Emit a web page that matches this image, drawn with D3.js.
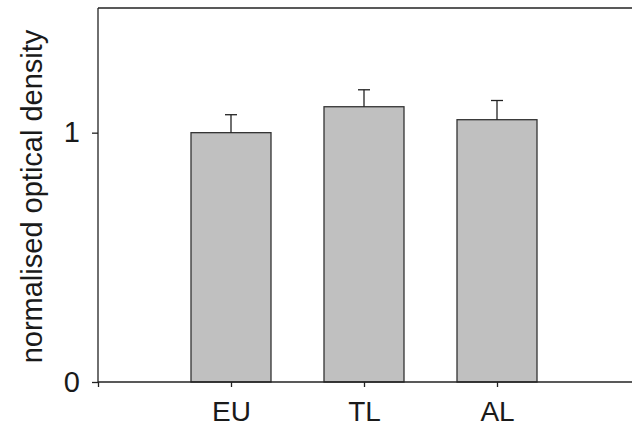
<!DOCTYPE html>
<html><head><meta charset="utf-8">
<script src="https://cdn.jsdelivr.net/npm/d3@7"></script>
<style>body{margin:0;background:#fff}svg{display:block}</style>
</head><body>
<svg id="c" width="632" height="427"></svg>
<script>
const categories = ["EU", "TL", "AL"];
const values = [1.0, 1.104, 1.052];
const errors = [0.072, 0.068, 0.077];
const yTicks = [0, 1];

(function () {
const svg = d3.select("#c");
const mLeft = 98, mRight = 632, mTop = 8, mBottom = 382;
const x = d3.scaleLinear().domain([0, 4]).range([mLeft, mLeft + 532]);
const y = d3.scaleLinear().domain([0, 1.5]).range([mBottom, mTop]);
const font = "Liberation Sans, Arial, sans-serif";

// bars
const bw = 80;
svg.selectAll("rect.bar").data(values).enter().append("rect")
  .attr("class", "bar")
  .attr("x", (d, i) => x(i + 1) - bw / 2)
  .attr("y", d => y(d))
  .attr("width", bw)
  .attr("height", d => y(0) - y(d))
  .attr("fill", "#c0c0c0")
  .attr("stroke", "#333")
  .attr("stroke-width", 1.3);

// error bars
const eg = svg.append("g").attr("stroke", "#222").attr("stroke-width", 1.3);
values.forEach((v, i) => {
  const cx = x(i + 1);
  eg.append("line").attr("x1", cx).attr("x2", cx).attr("y1", y(v)).attr("y2", y(v + errors[i]));
  eg.append("line").attr("x1", cx - 6).attr("x2", cx + 6).attr("y1", y(v + errors[i])).attr("y2", y(v + errors[i]));
});

// frame top line
svg.append("line").attr("x1", mLeft).attr("x2", mRight).attr("y1", y(1.5)).attr("y2", y(1.5))
  .attr("stroke", "#222").attr("stroke-width", 1.3);

// y axis
const ya = svg.append("g").attr("transform", `translate(${mLeft},0)`)
  .call(d3.axisLeft(y).tickValues(yTicks).tickFormat(d3.format("d")).tickSize(6).tickPadding(12));
ya.select(".domain").attr("stroke", "#222").attr("stroke-width", 1.3).attr("d", `M0,${y(0)}V${y(1.5)}`);
ya.selectAll(".tick line").attr("stroke", "#222").attr("stroke-width", 1.3);
ya.selectAll(".tick text").attr("font-family", font).attr("font-size", 29).attr("fill", "#1a1a1a");

// x axis
const xa = svg.append("g").attr("transform", `translate(0,${mBottom})`)
  .call(d3.axisBottom(x).tickValues([0, 1, 2, 3]).tickFormat(d => d === 0 ? "" : categories[d - 1]).tickSize(5).tickPadding(14));
xa.select(".domain").attr("stroke", "#222").attr("stroke-width", 1.3).attr("d", `M${mLeft},0H${mRight}`);
xa.selectAll(".tick line").attr("stroke", "#222").attr("stroke-width", 1.3);
xa.selectAll(".tick text").attr("font-family", font).attr("font-size", 28).attr("fill", "#1a1a1a");

// y label
svg.append("text")
  .attr("transform", `translate(42,${(30 + 363) / 2}) rotate(-90)`)
  .attr("text-anchor", "middle")
  .attr("font-family", font).attr("font-size", 29).attr("fill", "#1a1a1a")
  .text("normalised optical density");
})();
</script>
</body></html>
